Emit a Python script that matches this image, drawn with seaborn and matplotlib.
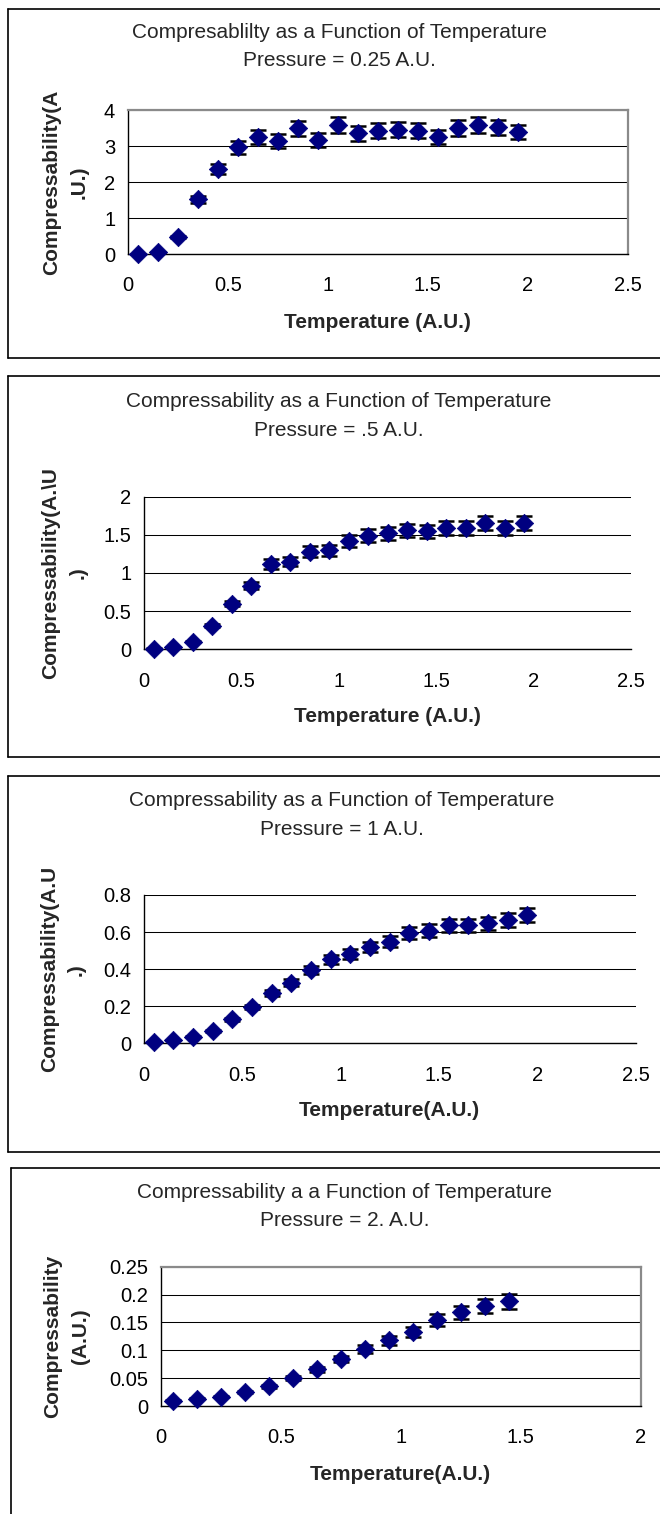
import matplotlib
matplotlib.use("Agg")
import matplotlib.pyplot as plt
import seaborn as sns
import numpy as np
from matplotlib.lines import Line2D
from matplotlib.ticker import FuncFormatter, MultipleLocator

sns.set_style("white")
plt.rcParams['font.family'] = ['Liberation Sans', 'DejaVu Sans']

# ---------------- data ----------------
temp_full = [0.05, 0.15, 0.25, 0.35, 0.45, 0.55, 0.65, 0.75, 0.85, 0.95,
             1.05, 1.15, 1.25, 1.35, 1.45, 1.55, 1.65, 1.75, 1.85, 1.95]
temp_short = temp_full[:15]

comp_p025 = [0.01, 0.05, 0.47, 1.52, 2.36, 2.96, 3.26, 3.14, 3.49, 3.17,
             3.58, 3.35, 3.43, 3.45, 3.42, 3.26, 3.50, 3.58, 3.52, 3.39]
comp_p05 = [0.01, 0.03, 0.10, 0.31, 0.60, 0.83, 1.12, 1.15, 1.28, 1.30,
            1.42, 1.49, 1.52, 1.56, 1.55, 1.59, 1.59, 1.66, 1.59, 1.66]
comp_p1 = [0.009, 0.018, 0.036, 0.067, 0.13, 0.194, 0.27, 0.327, 0.396, 0.453,
           0.48, 0.52, 0.549, 0.594, 0.608, 0.638, 0.638, 0.647, 0.665, 0.692]
comp_p2 = [0.0096, 0.013, 0.017, 0.0245, 0.035, 0.050, 0.066, 0.084, 0.102, 0.118,
           0.133, 0.154, 0.168, 0.179, 0.188]

err_frac = [0.06, 0.055, 0.055, 0.07]

titles = ["Compresablilty as a Function of Temperature",
          "Compressability as a Function of Temperature",
          "Compressability as a Function of Temperature",
          "Compressability a a Function of Temperature"]
subtitles = ["Pressure = 0.25 A.U.", "Pressure = .5 A.U.",
             "Pressure = 1 A.U.", "Pressure = 2. A.U."]
xlabels = ["Temperature (A.U.)", "Temperature (A.U.)",
           "Temperature(A.U.)", "Temperature(A.U.)"]
ylabels = [["Compressability(A", ".U.)"],
           ["Compressability(A.\\U", ".)"],
           ["Compressability(A.U", ".)"],
           ["Compressability", "(A.U.)"]]
xmax = [2.5, 2.5, 2.5, 2.0]
ymax = [4, 2, 0.8, 0.25]
ystep = [1, 0.5, 0.2, 0.05]
xs = [temp_full, temp_full, temp_full, temp_short]
ys = [comp_p025, comp_p05, comp_p1, comp_p2]

# ---------------- layout (pixels) ----------------
W, H = 660, 1514
fig = plt.figure(figsize=(W / 100, H / 100), dpi=100)

def fx(x): return x / W
def fy(y): return 1 - y / H

# plot area: left, top, right, bottom
plot_boxes = [(127.7, 110, 627.7, 254),
              (144, 496.7, 631.3, 649.3),
              (144, 895, 635.5, 1043.3),
              (160.8, 1266.7, 640.6, 1406)]
# outer chart boxes: left, top, bottom
outer = [(8.4, 8.5, 358), (8.4, 376, 757.3), (8.4, 776, 1152.3), (11.4, 1168.3, 1530)]
title_y = [(33, 61), (401.7, 430), (801, 829.3), (1192.7, 1220)]
title_x = [339, 339, 342, 344.5]
xlabel_y = [322, 716.7, 1110, 1475]
ylabel_x = [(51.7, 79), (50.5, 78), (49.7, 75.8), (52.6, 80.8)]
gray_border = [True, False, False, True]

navy = '#000080'
for i in range(4):
    l, t, b = outer[i]
    for xd, yd in [((l, l), (t, b)), ((l, 700), (t, t)), ((l, 700), (b, b))]:
        fig.add_artist(Line2D([fx(v) for v in xd], [fy(v) for v in yd],
                              color='black', lw=1.2, transform=fig.transFigure))

    L, T, R, B = plot_boxes[i]
    ax = fig.add_axes([fx(L), fy(B), (R - L) / W, (B - T) / H])
    x = np.array(xs[i]); y = np.array(ys[i])
    ax.errorbar(x, y, yerr=y * err_frac[i], fmt='none', ecolor='black',
                elinewidth=1.2, capsize=5.6, capthick=1.8, zorder=3, clip_on=False)
    sns.scatterplot(x=x, y=y, ax=ax, marker='D', s=88, color=navy,
                    edgecolor=navy, linewidth=0.5, zorder=4, clip_on=False)
    ax.set_xlim(0, xmax[i]); ax.set_ylim(0, ymax[i])
    ax.xaxis.set_major_locator(MultipleLocator(0.5))
    ax.yaxis.set_major_locator(MultipleLocator(ystep[i]))
    fmt = FuncFormatter(lambda v, p: f"{round(v, 4):g}")
    ax.xaxis.set_major_formatter(fmt); ax.yaxis.set_major_formatter(fmt)
    ax.tick_params(axis='both', direction='out', length=5, width=1, color='black',
                   labelsize=14.5, labelcolor='black')
    ax.tick_params(axis='x', pad=11)
    ax.tick_params(axis='y', pad=4)
    ax.grid(axis='y', color='black', lw=0.75)
    ax.grid(axis='x', visible=False)
    ax.set_axisbelow(True)
    gl = ax.yaxis.get_gridlines()
    gl[0].set_visible(False); gl[-1].set_visible(False)
    for s in ['left', 'bottom']:
        ax.spines[s].set_color('black'); ax.spines[s].set_linewidth(1)
    for s in ['top', 'right']:
        if gray_border[i]:
            ax.spines[s].set_visible(True)
            ax.spines[s].set_color('#8a8a8a'); ax.spines[s].set_linewidth(1.6)
        else:
            ax.spines[s].set_visible(False)
    ax.set_xlabel(''); ax.set_ylabel('')
    ax.patch.set_alpha(0)

    fig.text(fx(title_x[i]), fy(title_y[i][0]), titles[i], ha='center', va='center', fontsize=15)
    fig.text(fx(title_x[i]), fy(title_y[i][1]), subtitles[i], ha='center', va='center', fontsize=15)
    fig.text(fx((L + R) / 2), fy(xlabel_y[i]), xlabels[i], ha='center', va='center',
             fontsize=15, fontweight='bold')
    yc = (T + B) / 2
    for k in range(2):
        fig.text(fx(ylabel_x[i][k]), fy(yc), ylabels[i][k], ha='center', va='center',
                 rotation=90, fontsize=15, fontweight='bold')

fig.savefig("out.png", dpi=100)
